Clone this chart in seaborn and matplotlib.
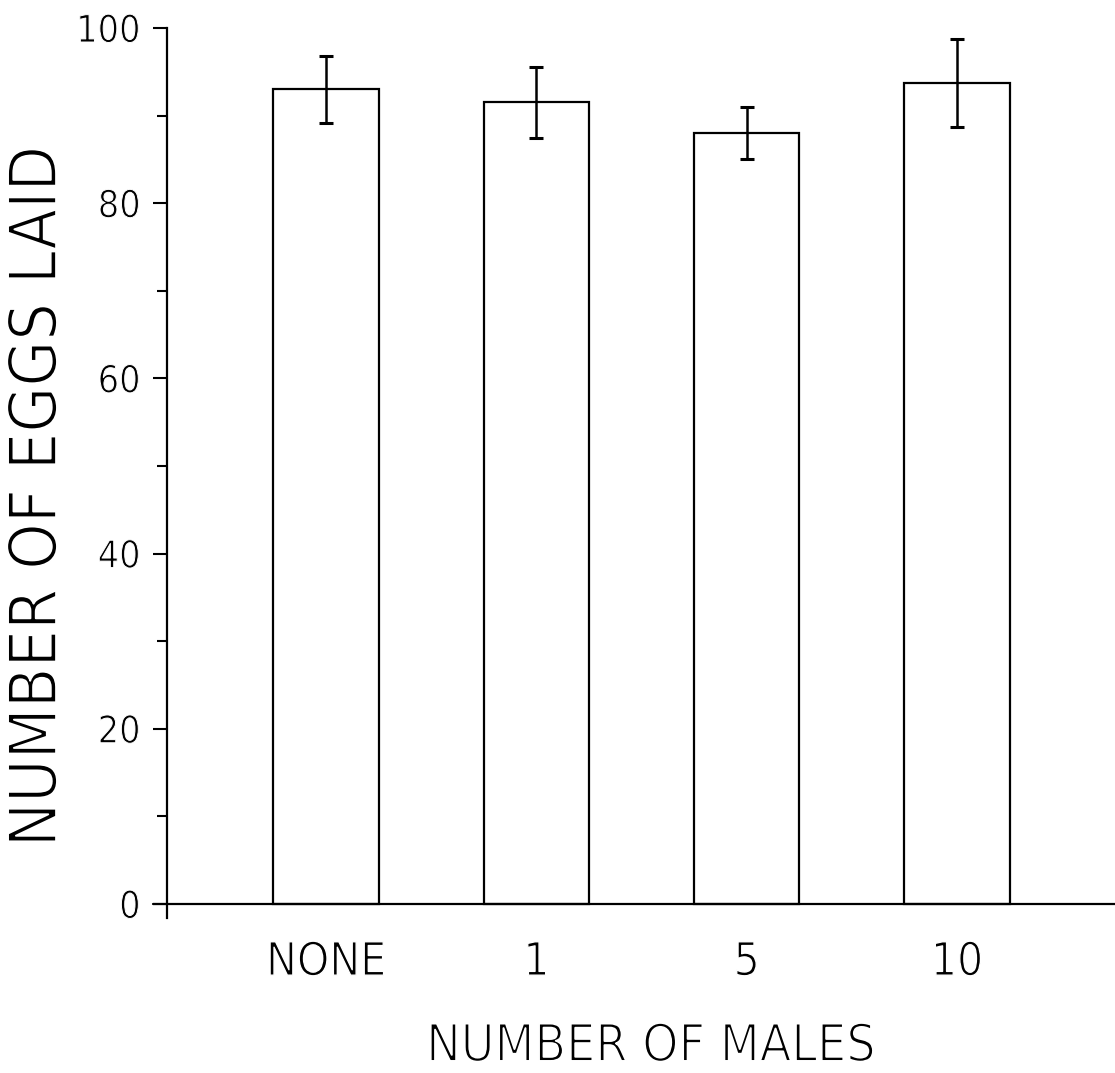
import matplotlib
matplotlib.use("Agg")
import matplotlib.pyplot as plt
import matplotlib.patheffects as pe
import seaborn as sns
import pandas as pd
from matplotlib.ticker import MultipleLocator

# Mean eggs laid per female and the spread of each mean
males = ["NONE", "1", "5", "10"]
eggs_mean = [93.0, 91.5, 88.0, 93.7]
eggs_err = [3.85, 4.05, 3.0, 5.0]
y_ticks = [0, 20, 40, 60, 80, 100]

df = pd.DataFrame({"males": males, "eggs": eggs_mean})

sns.set_style("white")
plt.rcParams["font.family"] = ["DejaVu Sans"]
plt.rcParams["text.color"] = "black"
plt.rcParams["xtick.color"] = "black"
plt.rcParams["ytick.color"] = "black"
font = dict(family="DejaVu Sans", stretch="condensed", color="black")


def thin(width):
    # pen-style lettering: erode glyph outlines with a white edge
    return [pe.Stroke(linewidth=width, foreground="white")]


fig = plt.figure(figsize=(11.15, 10.73), dpi=100)
ax = fig.add_axes([0.1498, 0.1445, 0.8502, 0.8294])

sns.barplot(data=df, x="males", y="eggs", order=males, width=0.5,
            color="white", edgecolor="black", linewidth=1.6,
            errorbar=None, ax=ax)
ax.errorbar(range(len(males)), eggs_mean, yerr=eggs_err, fmt="none",
            ecolor="black", elinewidth=1.8, capsize=5, capthick=2.2)

ax.set_xlim(-0.756, 3.751)
ax.set_ylim(-1.6, 100)

# Frame: left axis only, baseline drawn at zero
for side in ("top", "right", "bottom"):
    ax.spines[side].set_visible(False)
ax.spines["left"].set_linewidth(1.6)
ax.spines["left"].set_color("black")
ax.axhline(0, xmin=-0.015, xmax=1.0, color="black", lw=1.6, clip_on=False)

ax.yaxis.set_major_locator(MultipleLocator(20))
ax.yaxis.set_minor_locator(MultipleLocator(10))
ax.tick_params(axis="y", which="major", direction="out", length=10,
               width=1.5, color="black", pad=9, left=True)
ax.tick_params(axis="y", which="minor", direction="out", length=7,
               width=1.5, color="black", left=True)
ax.tick_params(axis="x", length=0, pad=16)

ax.set_yticks(y_ticks)
ax.set_yticklabels([str(v) for v in y_ticks], fontsize=27, **font)
ax.set_xticks(range(len(males)))
ax.set_xticklabels(males, fontsize=33, **font)

ax.set_xlabel("NUMBER OF MALES", fontsize=37, **font)
ax.set_ylabel("NUMBER OF EGGS LAID", fontsize=47.5, **font)
ax.xaxis.label.set_va("center")
ax.yaxis.label.set_va("center")
ax.xaxis.set_label_coords(0.51, -0.145)
ax.yaxis.set_label_coords(-0.136, 0.474)

for t in ax.get_yticklabels():
    t.set_path_effects(thin(0.7))
for t in ax.get_xticklabels():
    t.set_path_effects(thin(1.0))
for t in (ax.xaxis.label, ax.yaxis.label):
    t.set_path_effects(thin(1.4))

fig.savefig("out.png", dpi=100, facecolor="white")
